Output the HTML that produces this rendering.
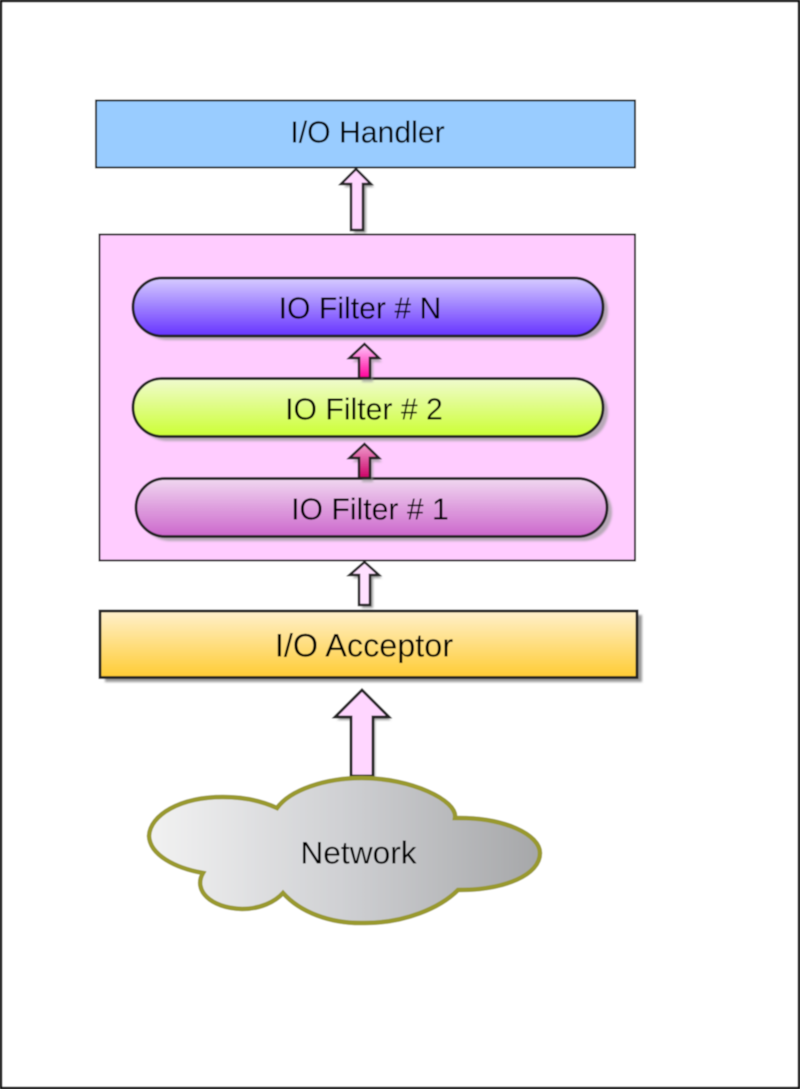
<!DOCTYPE html>
<html>
<head>
<meta charset="utf-8">
<style>
html,body{margin:0;padding:0;background:#fff;width:800px;height:1089px;overflow:hidden}
svg{display:block}
text{font-family:"Liberation Sans",Arial,sans-serif;font-size:30.2px;fill:#000;text-anchor:middle}
</style>
</head>
<body>
<svg width="800" height="1089" viewBox="0 0 800 1089" xmlns="http://www.w3.org/2000/svg">
<defs>
<filter id="b" x="-5%" y="-5%" width="110%" height="110%"><feGaussianBlur stdDeviation="0.45"/></filter>
<filter id="s" x="-10%" y="-10%" width="120%" height="120%"><feGaussianBlur stdDeviation="1"/></filter>
<linearGradient id="gN" x1="0" y1="0" x2="0" y2="1"><stop offset="0" stop-color="#d6ccff"/><stop offset="1" stop-color="#6633ff"/></linearGradient>
<linearGradient id="g2" x1="0" y1="0" x2="0" y2="1"><stop offset="0" stop-color="#f0fbd0"/><stop offset="1" stop-color="#ccff33"/></linearGradient>
<linearGradient id="g1" x1="0" y1="0" x2="0" y2="1"><stop offset="0" stop-color="#f0d8f0"/><stop offset="1" stop-color="#cc66cc"/></linearGradient>
<linearGradient id="gA" x1="0" y1="0" x2="0" y2="1"><stop offset="0" stop-color="#fff0cc"/><stop offset="1" stop-color="#ffcc33"/></linearGradient>
<linearGradient id="gC" x1="0" y1="0" x2="1" y2="0"><stop offset="0" stop-color="#f2f2f2"/><stop offset="0.5" stop-color="#cfd0d3"/><stop offset="1" stop-color="#a6a7a9"/></linearGradient>
<linearGradient id="aM" x1="0" y1="0" x2="0" y2="1"><stop offset="0" stop-color="#ffccff"/><stop offset="1" stop-color="#ff0099"/></linearGradient>
<linearGradient id="aR" x1="0" y1="0" x2="0" y2="1"><stop offset="0" stop-color="#f0a0d0"/><stop offset="1" stop-color="#cc0066"/></linearGradient>
</defs>

<g filter="url(#b)">
<rect x="1" y="1" width="798" height="1087" fill="#fff" stroke="#111" stroke-width="2.500"/>

<rect x="96" y="100.500" width="539" height="67" fill="#99ccff" stroke="#111" stroke-width="1.800"/>

<path d="M356 169L371 184H363V230H351V184H341Z" transform="translate(3,3)" fill="#999" filter="url(#s)"/>
<path d="M356 169L371 184H363V230H351V184H341Z" fill="#ffd6ff" stroke="#222" stroke-width="2.500"/>

<rect x="99.500" y="234.500" width="535.500" height="326" fill="#ffccff" stroke="#111" stroke-width="1.800"/>

<rect x="138" y="282" width="470" height="58" rx="29" fill="#999" opacity=".7" filter="url(#s)"/>
<rect x="133" y="278" width="470" height="58" rx="29" fill="url(#gN)" stroke="#222" stroke-width="2.800"/>

<rect x="138" y="383" width="470" height="58" rx="29" fill="#999" opacity=".7" filter="url(#s)"/>
<rect x="133" y="378.500" width="470" height="58" rx="29" fill="url(#g2)" stroke="#222" stroke-width="2.800"/>

<rect x="141" y="483" width="471" height="58" rx="29" fill="#999" opacity=".7" filter="url(#s)"/>
<rect x="136" y="478.500" width="471" height="58" rx="29" fill="url(#g1)" stroke="#222" stroke-width="2.800"/>

<path d="M364.500 344L379 358H370V378H359V358H349.500Z" transform="translate(3,4)" fill="#999" opacity=".7" filter="url(#s)"/>
<path d="M364.500 344L379 358H370V378H359V358H349.500Z" fill="url(#aM)" stroke="#222" stroke-width="2.500"/>

<path d="M364.500 444L379 458H370V478H359V458H349.500Z" transform="translate(3,4)" fill="#999" opacity=".7" filter="url(#s)"/>
<path d="M364.500 444L379 458H370V478H359V458H349.500Z" fill="url(#aR)" stroke="#222" stroke-width="2.500"/>

<path d="M364.500 562L379 575H370V605H359V575H349.500Z" transform="translate(3,3)" fill="#999" filter="url(#s)"/>
<path d="M364.500 562L379 575H370V605H359V575H349.500Z" fill="#ffe0ff" stroke="#222" stroke-width="2.500"/>

<rect x="105" y="615" width="537" height="67" fill="#999" filter="url(#s)"/>
<rect x="100" y="611" width="537" height="66.500" fill="url(#gA)" stroke="#222" stroke-width="2.800"/>

<path d="M362 690L389 717H373V776H351V717H335Z" transform="translate(2,3)" fill="#999" filter="url(#s)"/>
<path d="M362 690L389 717H373V776H351V717H335Z" fill="#ffd6ff" stroke="#222" stroke-width="2.800"/>

<path d="M277 808C260 800 240 797 223 797C180 797 150 815 149 836C150 855 175 868 203 873C193 890 210 908 242 909C260 909 275 902 283 893C300 912 330 924 365 923C405 923 440 908 458 890C505 890 540 875 540 853C540 835 505 817 455 818C458 800 410 778 362 778C325 778 290 790 277 808Z" fill="url(#gC)" stroke="#99992e" stroke-width="4.500"/>

<text x="367.500" y="142.500">I/O Handler</text>
<text x="360" y="318.500">IO Filter # N</text>
<text x="364" y="419.500">IO Filter # 2</text>
<text x="370" y="519.500">IO Filter # 1</text>
<text x="364" y="656.500" style="font-size:32.400px">I/O Acceptor</text>
<text x="358.500" y="863.500" style="font-size:31.700px">Network</text>
</g>
</svg>
</body>
</html>
